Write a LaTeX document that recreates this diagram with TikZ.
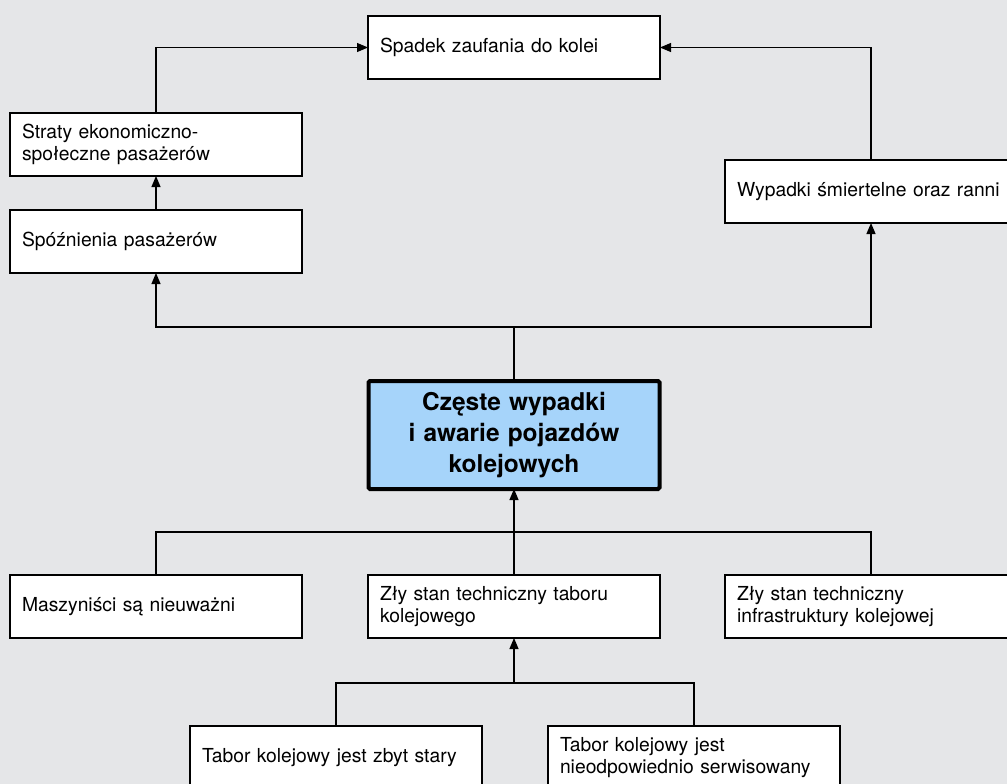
\documentclass[tikz,border=0pt]{standalone}
\usepackage{fontspec}
\setmainfont{TeX Gyre Heros}
\usetikzlibrary{arrows.meta}
\definecolor{pagebg}{RGB}{229,230,232}
\definecolor{corefill}{RGB}{166,212,250}
\tikzset{
  box/.style={draw, fill=white, line width=1.1pt, anchor=north west,
    outer sep=0pt, minimum width=292pt, minimum height=63pt,
    text width=268pt, inner xsep=12pt, inner ysep=0pt, align=left,
    font=\fontsize{19.3}{21.6}\selectfont},
  corebox/.style={draw, fill=corefill, line width=4pt, rounded corners=1.5pt,
    anchor=center, outer sep=0pt, minimum width=291pt, minimum height=108pt,
    text width=260pt, align=center, inner sep=0pt,
    font=\fontsize{24.5}{30.8}\selectfont\bfseries},
  link/.style={line width=1.2pt},
  arrowlink/.style={link, -{Triangle[length=11pt,width=9pt]}},
}
\begin{document}
\begin{tikzpicture}[x=1pt,y=-1pt]
  \clip (0,0) rectangle (1007,784);
  \fill[pagebg] (0,0) rectangle (1007,784);

  % effects
  \node[box] (spadek) at (368,16) {Spadek zaufania do kolei};
  \node[box] (straty) at (10,113) {Straty ekonomiczno-\\społeczne pasażerów};
  \node[box] (spozn) at (10,210) {Spóźnienia pasażerów};
  \node[box] (wypadki) at (725,160) {Wypadki śmiertelne oraz ranni};

  % core problem
  \node[corebox] (core) at (514,435) {Częste wypadki\\i awarie pojazdów\\kolejowych};

  % causes
  \node[box] (masz) at (10,575) {Maszyniści są nieuważni};
  \node[box] (tabor) at (368,575) {Zły stan techniczny taboru\\kolejowego};
  \node[box] (infra) at (725,575) {Zły stan techniczny\\infrastruktury kolejowej};
  \node[box] (stary) at (190,726) {Tabor kolejowy jest zbyt stary};
  \node[box] (serwis) at (548,726) {Tabor kolejowy jest\\nieodpowiednio serwisowany};

  % junction points
  \coordinate (upper) at (514,327);
  \coordinate (lower) at (514,532);
  \coordinate (lowest) at (514,683);

  % effect branch
  \draw[link] (core.north) -- (upper);
  \draw[arrowlink] (upper) -| (spozn.south);
  \draw[arrowlink] (upper) -| (wypadki.south);
  \draw[arrowlink] (spozn.north) -- (straty.south);
  \draw[arrowlink] (straty.north) |- (spadek.west);
  \draw[arrowlink] (wypadki.north) |- (spadek.east);

  % cause branch
  \draw[link] (masz.north) |- (lower);
  \draw[link] (infra.north) |- (lower);
  \draw[arrowlink] (tabor.north) -- (core.south);
  \draw[link] (stary.north) |- (lowest);
  \draw[link] (serwis.north) |- (lowest);
  \draw[arrowlink] (lowest) -- (tabor.south);
\end{tikzpicture}
\end{document}
